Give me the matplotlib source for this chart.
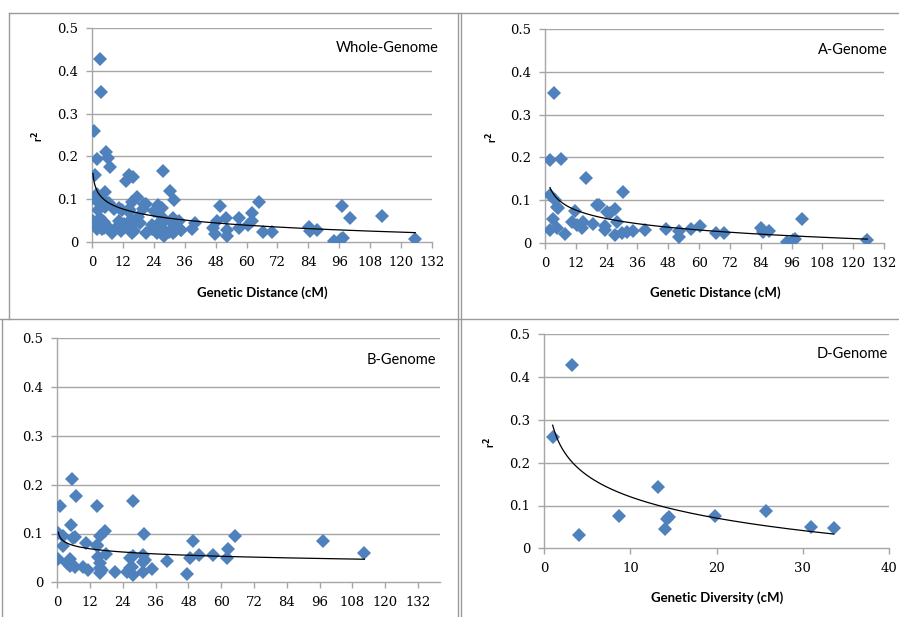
#! /usr/bin/env python3

#A program to plot LD decay (r^2 vs distance) for the genome groups.

import numpy as np
import matplotlib
matplotlib.use('Agg')
import matplotlib.pyplot as plt
from matplotlib.lines import Line2D

#A-genome points (distance cM, r^2).
aDist = [3.6, 1.95, 6.2, 15.8, 30.3, 1.95, 3.9, 5.2, 4.6, 3.2, 1.95, 4.6, 7.8,
         11.7, 10.4, 12.3, 14.3, 14.9, 18.8, 21.1, 20.1, 23.4, 23.4, 24.0, 25.3,
         27.3, 27.9, 27.3, 29.9, 32.1, 34.4, 38.9, 47.1, 52.3, 52.3, 56.9, 60.4,
         66.5, 69.7, 84.1, 84.8, 87.4, 94.1, 96.5, 97.4, 100.2, 125.5]
aR2 = [0.350, 0.194, 0.196, 0.153, 0.120, 0.112, 0.100, 0.081, 0.083, 0.056,
       0.030, 0.034, 0.021, 0.075, 0.050, 0.042, 0.034, 0.050, 0.044, 0.089,
       0.089, 0.040, 0.030, 0.072, 0.071, 0.079, 0.050, 0.019, 0.024, 0.025,
       0.028, 0.030, 0.032, 0.028, 0.013, 0.032, 0.040, 0.023, 0.023, 0.036,
       0.025, 0.029, 0.003, 0.007, 0.009, 0.057, 0.007]

#B-genome points.
bDist = [5.3, 6.8, 1.0, 14.4, 27.6, 4.9, 0.4, 2.2, 6.5, 2.2, 10.5, 14.4, 15.6,
         17.4, 18.0, 15.0, 31.7, 49.8, 65.0, 62.3, 62.0, 57.1, 51.9, 48.6, 47.6,
         40.0, 34.5, 31.5, 31.5, 32.1, 31.5, 27.8, 26.6, 27.2, 26.6, 25.4, 27.8,
         21.1, 97.1, 112.4, 0.35, 4.6, 4.6, 3.4, 6.5, 9.5, 11.3, 15.6, 15.6,
         16.2, 15.6, 5.9, 14.4]
bR2 = [0.211, 0.176, 0.156, 0.157, 0.167, 0.117, 0.102, 0.094, 0.092, 0.074,
       0.080, 0.077, 0.094, 0.105, 0.059, 0.052, 0.099, 0.085, 0.094, 0.068,
       0.049, 0.056, 0.055, 0.049, 0.018, 0.044, 0.027, 0.022, 0.042, 0.046,
       0.056, 0.053, 0.049, 0.032, 0.029, 0.022, 0.015, 0.022, 0.085, 0.061,
       0.048, 0.047, 0.033, 0.039, 0.032, 0.032, 0.025, 0.039, 0.020, 0.025,
       0.029, 0.090, 0.074]

#D-genome points (genetic diversity cM, r^2).
dDist = [3.25, 0.97, 4.07, 8.7, 13.2, 14.0, 14.2, 14.5, 19.8, 25.7, 31.0, 33.6]
dR2 = [0.428, 0.259, 0.031, 0.076, 0.143, 0.045, 0.069, 0.074, 0.076, 0.087,
       0.049, 0.048]

#Panel titles and labels.
titles = ['Whole-Genome', 'A-Genome', 'B-Genome', 'D-Genome']
yTicks = [0, 0.1, 0.2, 0.3, 0.4, 0.5]
yTickLabels = ['0', '0.1', '0.2', '0.3', '0.4', '0.5']
distTicks = list(range(0, 133, 12))
divTicks = [0, 10, 20, 30, 40]

##################################################################################

def logTrend(x, y):
  #Excel style logarithmic trendline, y = a*ln(x) + b.
  x = np.asarray(x, dtype = float)
  y = np.asarray(y, dtype = float)
  a, b = np.polyfit(np.log(x), y, 1)
  xs = np.linspace(x.min(), x.max(), 300)
  return xs, a*np.log(xs) + b
#End of function logTrend

##################################################################################

def drawPanel(fig, rect, x, y, title, xTicks, xMax, xLabel, yLabel, titleXY):
  ax = fig.add_axes(rect)
  blue = '#4F81BD'
  grid = '#A6A6A6'

  ax.plot(x, y, 'D', color = blue, markersize = 7.0, markeredgewidth = 0,
          zorder = 3)
  xs, ys = logTrend(x, y)
  ax.plot(xs, ys, color = 'black', linewidth = 0.9, zorder = 4)

  ax.set_xlim(0, xMax)
  ax.set_ylim(0, 0.5)
  ax.set_xticks(xTicks)
  ax.set_xticklabels([str(t) for t in xTicks])
  ax.set_yticks(yTicks)
  ax.set_yticklabels(yTickLabels)

  #Excel look: horizontal gridlines only, grey left and bottom axis.
  for v in yTicks[1:]:
    ax.axhline(v, color = grid, linewidth = 1.0, zorder = 1)
  for s in ['top', 'right']:
    ax.spines[s].set_visible(False)
  for s in ['left', 'bottom']:
    ax.spines[s].set_color(grid)
    ax.spines[s].set_linewidth(1.0)
  ax.tick_params(direction = 'out', length = 4, width = 1.0, color = grid,
                 pad = 6, labelsize = 9.5)
  for lab in ax.get_xticklabels() + ax.get_yticklabels():
    lab.set_fontfamily('DejaVu Serif')

  ax.text(titleXY[0], titleXY[1], title, transform = fig.transFigure,
          ha = 'right', va = 'center', fontsize = 10.5, family = 'Lato')
  if xLabel is not None :
    fig.text(xLabel[1], xLabel[2], xLabel[0], ha = 'center', va = 'center',
             fontsize = 9.5, fontweight = 'bold', family = 'Lato')
  if yLabel is not None :
    fig.text(yLabel[0], yLabel[1], r'r$^\mathbf{2}$', ha = 'center',
             va = 'center', rotation = 90, fontsize = 8, fontweight = 'bold',
             family = 'Lato')
  return ax
#End of function drawPanel

##################################################################################

def main():
  W, H = 899.0, 617.0
  fig = plt.figure(figsize = (W/100.0, H/100.0), dpi = 100)

  def fx(px):
    return px/W
  def fy(py):
    return 1.0 - py/H

  #Whole genome is all three sub-genomes together.
  wDist = aDist + bDist + dDist
  wR2 = aR2 + bR2 + dR2

  drawPanel(fig, [fx(92), fy(242), fx(432) - fx(92), fy(28) - fy(242)],
            wDist, wR2, titles[0], distTicks, 132,
            ('Genetic Distance (cM)', fx(262), fy(293)), (fx(38), fy(136)),
            (fx(439), fy(48)))
  drawPanel(fig, [fx(545), fy(243), fx(884) - fx(545), fy(29) - fy(243)],
            aDist, aR2, titles[1], distTicks, 132,
            ('Genetic Distance (cM)', fx(715), fy(293)), (fx(492), fy(137)),
            (fx(888), fy(50)))
  drawPanel(fig, [fx(57.3), fy(582.3), fx(439.8) - fx(57.3), fy(338.3) - fy(582.3)],
            bDist, bR2, titles[2], distTicks, 140, None, None,
            (fx(436), fy(360)))
  drawPanel(fig, [fx(544.3), fy(548.3), fx(888.7) - fx(544.3), fy(334.3) - fy(548.3)],
            dDist, dR2, titles[3], divTicks, 40,
            ('Genetic Diversity (cM)', fx(717), fy(598)), (fx(490), fy(442)),
            (fx(888), fy(354)))

  #Panel frames.
  frame = '#9A9A9A'
  segs = [((9, 13), (899, 13)), ((9, 13), (9, 319)), ((0, 319), (899, 319)),
          ((458, 13), (458, 617)), ((461, 13), (461, 617)), ((2, 319), (2, 617))]
  for p0, p1 in segs :
    fig.add_artist(Line2D([fx(p0[0]), fx(p1[0])], [fy(p0[1]), fy(p1[1])],
                          color = frame, linewidth = 1.0))

  fig.savefig('out.png', dpi = 100)
#End of function main

if __name__ == '__main__':
  main()
